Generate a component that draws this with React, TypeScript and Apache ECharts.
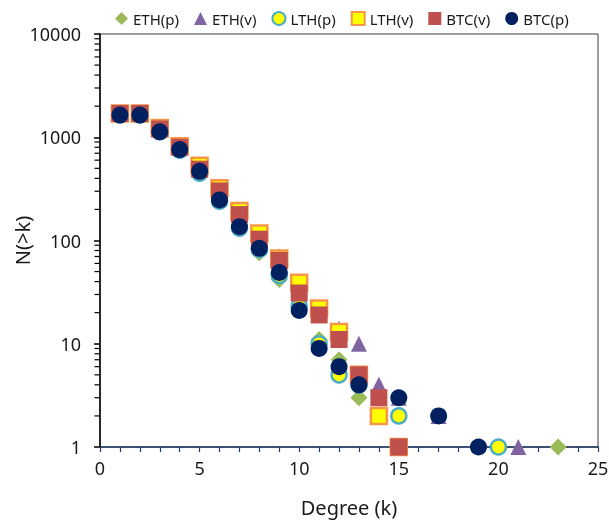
import React, { useEffect, useRef } from "react";
import * as echarts from "echarts";

const ethP_k = [1, 2, 3, 4, 5, 6, 7, 8, 9, 10, 11, 12, 13, 23];
const ethP_n = [1650, 1650, 1130, 750, 460, 245, 135, 76, 42, 22, 11, 7, 3, 1];

const ethV_k = [1, 2, 3, 4, 5, 6, 7, 8, 9, 10, 11, 12, 13, 14, 15, 17, 21];
const ethV_n = [1700, 1700, 1200, 800, 500, 300, 180, 110, 70, 34, 20, 14, 10, 4, 3, 2, 1];

const lthP_k = [1, 2, 3, 4, 5, 6, 7, 8, 9, 10, 11, 12, 13, 15, 20];
const lthP_n = [1650, 1650, 1130, 750, 450, 240, 132, 82, 46, 23, 10, 5, 4, 2, 1];

const lthV_k = [1, 2, 3, 4, 5, 6, 7, 8, 9, 10, 11, 12, 13, 14, 15];
const lthV_n = [1700, 1700, 1230, 820, 530, 320, 193, 117, 67, 39, 22, 13, 5, 2, 1];

const btcV_k = [1, 2, 3, 4, 5, 6, 7, 8, 9, 10, 11, 12, 13, 14, 15];
const btcV_n = [1700, 1700, 1200, 800, 490, 302, 178, 103, 64, 31, 19, 11, 5, 3, 1];

const btcP_k = [1, 2, 3, 4, 5, 6, 7, 8, 9, 10, 11, 12, 13, 15, 17, 19];
const btcP_n = [1640, 1640, 1130, 760, 468, 247, 136, 84, 49, 21, 9, 6, 4, 3, 2, 1];

const seriesNames = ["ETH(p)", "ETH(v)", "LTH(p)", "LTH(v)", "BTC(v)", "BTC(p)"];
const yMinorTickValues: number[] = [];
[1, 10, 100, 1000].forEach((d) => {
  for (let m = 2; m <= 9; m++) yMinorTickValues.push(m * d);
});

const zip = (ks: number[], ns: number[]) => ks.map((k, i) => [k, ns[i]]);

const FONT = "'Noto Sans', sans-serif";

export default function App() {
  const ref = useRef<HTMLDivElement>(null);
  useEffect(() => {
    if (!ref.current) return;
    const chart = echarts.init(ref.current, undefined, { renderer: "svg" });
    chart.setOption({
      animation: false,
      textStyle: { fontFamily: FONT },
      legend: {
        data: seriesNames,
        top: 6,
        left: 110,
        itemWidth: 13,
        itemHeight: 13,
        itemGap: 15,
        textStyle: { fontSize: 15, color: "#1a1a1a", fontFamily: FONT },
      },
      grid: {
        left: 100,
        right: 11,
        top: 34,
        bottom: 78,
        show: true,
        borderColor: "#404040",
        borderWidth: 1,
        containLabel: false,
        outerBoundsMode: "none",
      },
      xAxis: {
        type: "value",
        min: 0,
        max: 25,
        interval: 1,
        name: "Degree (k)",
        nameLocation: "middle",
        nameGap: 50,
        nameMoveOverlap: false,
        nameTextStyle: { fontSize: 20, color: "#1a1a1a", fontFamily: FONT },
        axisLine: { show: true, lineStyle: { color: "#1f3864", width: 1.5 } },
        axisTick: { show: true, length: 5, lineStyle: { color: "#1f3864", width: 1.2 } },
        axisLabel: {
          fontSize: 18,
          color: "#1a1a1a",
          margin: 12,
          formatter: (v: number) => (v % 5 === 0 ? String(v) : ""),
        },
        splitLine: { show: false },
      },
      yAxis: {
        type: "log",
        logBase: 10,
        min: 1,
        max: 10000,
        name: "N(>k)",
        nameLocation: "middle",
        nameGap: 68,
        nameMoveOverlap: false,
        nameTextStyle: { fontSize: 20, color: "#1a1a1a", fontFamily: FONT },
        axisLine: { show: true, lineStyle: { color: "#000", width: 1.5 } },
        axisTick: { show: true, length: 6, lineStyle: { color: "#000", width: 1.5 } },
        axisLabel: {
          fontSize: 18,
          color: "#1a1a1a",
          margin: 19,
          formatter: (v: number) => String(Math.round(v)),
        },
        splitLine: { show: false },
      },
      series: [
        {
          type: "scatter",
          name: "minorTicks",
          silent: true,
          clip: false,
          symbol: "rect",
          symbolSize: [5, 1.2],
          symbolOffset: [-3, 0],
          itemStyle: { color: "#000", opacity: 1 },
          data: yMinorTickValues.map((v) => [0, v]),
          z: 10,
        },
        {
          name: "ETH(p)",
          type: "scatter",
          symbol: "diamond",
          symbolSize: 17,
          itemStyle: { color: "#9bbb59", opacity: 1 },
          data: zip(ethP_k, ethP_n),
          z: 2,
        },
        {
          name: "ETH(v)",
          type: "scatter",
          symbol: "triangle",
          symbolSize: 16,
          itemStyle: { color: "#8064a2", opacity: 1 },
          data: zip(ethV_k, ethV_n),
          z: 3,
        },
        {
          name: "LTH(p)",
          type: "scatter",
          symbol: "circle",
          symbolSize: 15,
          itemStyle: { color: "#ffff00", borderColor: "#4bacc6", borderWidth: 2.5, opacity: 1 },
          data: zip(lthP_k, lthP_n),
          z: 4,
        },
        {
          name: "LTH(v)",
          type: "scatter",
          symbol: "rect",
          symbolSize: 16,
          itemStyle: { color: "#ffff00", borderColor: "#f79646", borderWidth: 2.5, opacity: 1 },
          data: zip(lthV_k, lthV_n),
          z: 5,
        },
        {
          name: "BTC(v)",
          type: "scatter",
          symbol: "rect",
          symbolSize: 17,
          itemStyle: { color: "#c0504d", opacity: 1 },
          data: zip(btcV_k, btcV_n),
          z: 6,
        },
        {
          name: "BTC(p)",
          type: "scatter",
          symbol: "circle",
          symbolSize: 17,
          itemStyle: { color: "#002060", opacity: 1 },
          data: zip(btcP_k, btcP_n),
          z: 7,
        },
      ],
    });
    return () => chart.dispose();
  }, []);
  return (
    <div
      ref={ref}
      style={{ position: "fixed", left: 0, top: 0, width: 609, height: 525 }}
    />
  );
}
